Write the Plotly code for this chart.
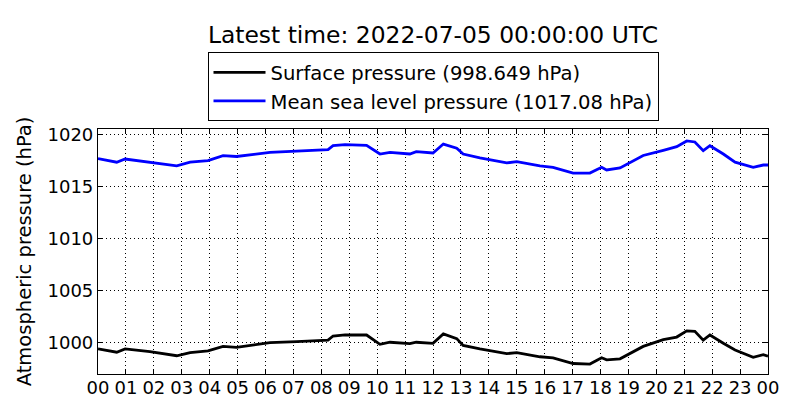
"""
Atmospheric pressure over the last 24 hours (surface vs mean sea level).
Writes out.html.
"""

import plotly.graph_objects as go

# --- Data (hours since 2022-07-04 00:00 UTC) ---
hours = [0.0, 0.67, 0.97, 1.86, 2.82, 3.3, 3.94, 4.48, 4.96, 6.16, 7.12,
         8.24, 8.42, 8.85, 9.62, 10.1, 10.46, 11.17, 11.4, 12.0, 12.37,
         12.85, 13.08, 13.68, 14.64, 15.0, 15.83, 16.3, 17.02, 17.62,
         18.04, 18.22, 18.7, 19.53, 20.25, 20.73, 21.09, 21.38, 21.68,
         21.92, 22.4, 22.82, 23.47, 23.83, 24.0]

surface_hpa = [999.36, 999.04, 999.36, 999.1, 998.7, 999.0, 999.16, 999.6,
               999.5, 999.96, 1000.06, 1000.2, 1000.6, 1000.7, 1000.7, 999.8,
               1000.0, 999.86, 1000.0, 999.9, 1000.8, 1000.35, 999.7, 999.36,
               998.9, 999.0, 998.6, 998.5, 997.95, 997.9, 998.5, 998.3, 998.4,
               999.6, 1000.26, 1000.5, 1001.1, 1001.06, 1000.2, 1000.7, 999.9,
               999.26, 998.55, 998.8, 998.649]

msl_hpa = [1017.7, 1017.35, 1017.66, 1017.35, 1017.0, 1017.35, 1017.5,
           1017.98, 1017.9, 1018.3, 1018.4, 1018.56, 1018.94, 1019.04,
           1018.98, 1018.14, 1018.3, 1018.14, 1018.37, 1018.24, 1019.1,
           1018.7, 1018.14, 1017.76, 1017.28, 1017.4, 1017.0, 1016.86,
           1016.3, 1016.3, 1016.86, 1016.6, 1016.8, 1018.0, 1018.5, 1018.85,
           1019.4, 1019.3, 1018.46, 1018.94, 1018.14, 1017.35, 1016.86,
           1017.08, 1017.08]

tick_hours = list(range(0, 25))
tick_labels = [f"{h % 24:02d}" for h in tick_hours]
y_ticks = [1000, 1005, 1010, 1015, 1020]

FONT = "DejaVu Sans"

fig = go.Figure()

fig.add_trace(go.Scatter(
    x=hours, y=surface_hpa, mode="lines",
    line=dict(color="black", width=2.8),
    name=f"Surface pressure ({surface_hpa[-1]:g} hPa)",
))
fig.add_trace(go.Scatter(
    x=hours, y=msl_hpa, mode="lines",
    line=dict(color="#0000ff", width=2.8),
    name=f"Mean sea level pressure ({msl_hpa[-1]:g} hPa)",
))

axis_common = dict(
    showline=True, linecolor="black", linewidth=1.2, mirror="allticks",
    ticks="inside", ticklen=5, tickcolor="black",
    showgrid=True, gridcolor="black", gridwidth=1, griddash="1px,3px",
    zeroline=False,
    tickfont=dict(family=FONT, size=18, color="black"),
)

fig.update_xaxes(
    range=[0, 24], tickvals=tick_hours, ticktext=tick_labels,
    ticklabelstandoff=-3,
    **axis_common,
)
fig.update_yaxes(
    range=[996.94, 1020.55], tickvals=y_ticks,
    title=dict(text="Atmospheric pressure (hPa)",
               font=dict(family=FONT, size=19.5, color="black"), standoff=10),
    **axis_common,
)

fig.update_layout(
    width=800, height=420,
    margin=dict(l=98, r=32, t=129, b=45.5, autoexpand=False),
    paper_bgcolor="white", plot_bgcolor="white",
    font=dict(family=FONT, color="black"),
    title=dict(
        text="Latest time: 2022-07-05 00:00:00 UTC",
        font=dict(family=FONT, size=23.4, color="black"),
        x=433 / 800, xanchor="center", xref="container",
        y=1 - 35 / 420, yanchor="middle", yref="container",
    ),
    legend=dict(
        x=0.5, xanchor="center",
        y=(374.5 - 52) / 245.5, yanchor="top",
        bgcolor="white", bordercolor="black", borderwidth=1,
        font=dict(family=FONT, size=19.6, color="black"),
        tracegroupgap=0, itemwidth=52,
    ),
    showlegend=True,
)

# page body has a default 8px margin; drop it so the figure sits at 0,0
fig.write_html("out.html", config={"displayModeBar": False},
               post_script="document.body.style.margin='0';")
